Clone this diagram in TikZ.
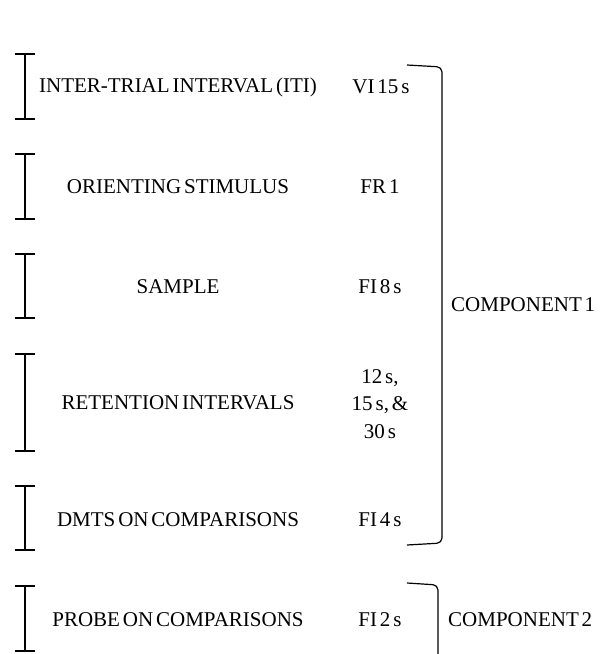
\documentclass[tikz,border=0pt]{standalone}
\usepackage{fontspec}
\setmainfont{Liberation Serif}[WordSpace=0.55]
\usetikzlibrary{arrows.meta}
\tikzset{
  stagetxt/.style={inner sep=0pt, font=\fontsize{21}{27.5}\selectfont},
  schedtxt/.style={stagetxt, align=center},
  stagebar/.style={line width=1.7pt, {Bar[width=20pt]}-{Bar[width=20pt]}},
  compbrace/.style={line width=1.2pt, rounded corners=5pt},
}
\begin{document}
\begin{tikzpicture}[x=1pt,y=-1pt]
\useasboundingbox (0,0) rectangle (607,654);
% trial stages
\node[stagetxt] (iti) at (178,87) {INTER-TRIAL INTERVAL (ITI)};
\node[stagetxt] (orient) at (178,187) {ORIENTING STIMULUS};
\node[stagetxt] (sample) at (178,287) {SAMPLE};
\node[stagetxt] (retain) at (178,403) {RETENTION INTERVALS};
\node[stagetxt] (dmts) at (178,520) {DMTS ON COMPARISONS};
\node[stagetxt] (probe) at (178,620) {PROBE ON COMPARISONS};
% schedules
\node[schedtxt] (itiS) at (381,87) {VI 15 s};
\node[schedtxt] (orientS) at (380,187) {FR 1};
\node[schedtxt] (sampleS) at (380,287) {FI 8 s};
\node[schedtxt] (retainS) at (380,404) {12 s,\\15 s, \&\\30 s};
\node[schedtxt] (dmtsS) at (380,520) {FI 4 s};
\node[schedtxt] (probeS) at (380,620) {FI 2 s};
% components
\node[stagetxt, anchor=west] (comp1) at (451,305) {COMPONENT 1};
\node[stagetxt, anchor=west] (comp2) at (448,620) {COMPONENT 2};
% stage bars
\coordinate (b1t) at (25,53);  \coordinate (b1b) at (25,120);
\coordinate (b2t) at (25,153); \coordinate (b2b) at (25,220);
\coordinate (b3t) at (25,253); \coordinate (b3b) at (25,319);
\coordinate (b4t) at (25,353); \coordinate (b4b) at (25,452);
\coordinate (b5t) at (25,485); \coordinate (b5b) at (25,551);
\coordinate (b6t) at (25,585); \coordinate (b6b) at (25,652);
\foreach \i in {1,...,6}
  \draw[stagebar] (b\i t) -- (b\i b);
% component braces
\draw[compbrace] (407,65) -- (442,67) -- (442,543) -- (407,545);
\draw[compbrace] (407,583) -- (438,585) -- (438,662);
\end{tikzpicture}
\end{document}
